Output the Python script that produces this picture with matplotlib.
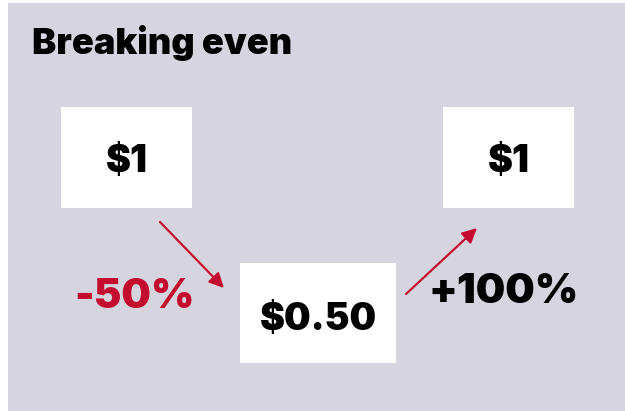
import matplotlib.pyplot as plt
from matplotlib.patches import Rectangle

# values shown in the boxes and the moves between them
box_labels = [r"\$1", r"\$0.50", r"\$1"]
values = [1.0, 0.5, 1.0]
changes = ["-50%", "+100%"]
change_colors = ["#c40d2e", "#000000"]

title = "Breaking even"
grey = "#d6d5df"
red = "#c40d2e"

# box layout in pixels (x0, y0, w, h), y going down
boxes = [(61, 107, 131, 101), (240, 263, 156, 100), (443, 107, 131, 101)]
text_base = [172, 330, 172]
arrows = [((160, 222), (224, 288)), ((406, 294), (477, 228))]
change_pos = [(134, 308), (504, 303)]

plt.rcParams['font.family'] = ['Inter', 'DejaVu Sans']

fig = plt.figure(figsize=(6.25, 4.11), dpi=100)
ax = fig.add_axes([0, 0, 1, 1])
ax.set_xlim(0, 625)
ax.set_ylim(411, 0)
ax.axis('off')

ax.add_patch(Rectangle((8, 3), 625 - 8, 411 - 3, facecolor=grey, edgecolor='none'))

ax.text(32, 54, title, fontsize=26, fontweight='black', ha='left', va='baseline')

for i in range(len(values)):
    x0, y0, w, h = boxes[i]
    ax.add_patch(Rectangle((x0, y0), w, h, facecolor='white', edgecolor='none'))
    ax.text(x0 + w / 2, text_base[i], box_labels[i], fontsize=27, fontweight='black',
            ha='center', va='baseline')

for i in range(len(changes)):
    start, end = arrows[i]
    ax.annotate("", xy=end, xytext=start,
                arrowprops=dict(arrowstyle='-|>', color=red, lw=1.6, mutation_scale=22,
                                shrinkA=0, shrinkB=0))
    ax.text(change_pos[i][0], change_pos[i][1], changes[i], fontsize=30, fontweight='black',
            color=change_colors[i], ha='center', va='baseline')

fig.savefig('out.png', dpi=100)
